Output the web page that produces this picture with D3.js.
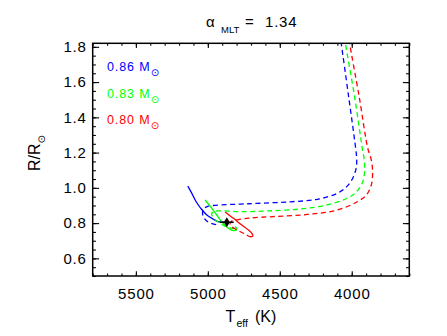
<!DOCTYPE html>
<html>
<head>
<meta charset="utf-8">
<script src="https://cdn.jsdelivr.net/npm/d3@7"></script>
<style>
  html, body { margin: 0; padding: 0; background: #ffffff; }
  svg { display: block; }
  text { font-family: "Liberation Sans", Arial, Helvetica, sans-serif; }
</style>
</head>
<body>
<div id="chart"></div>
<script>
// ---------------- data ----------------
const massLabels = ["0.86", "0.83", "0.80"];
const titleValue = "1.34";

const xMajorTicks = [5500, 5000, 4500, 4000];
const yMajorTicks = [0.6, 0.8, 1.0, 1.2, 1.4, 1.6, 1.8];

// 0.86 Msun track
const blueSolidT = [5139, 5111, 5081, 5049, 5007, 4961, 4926, 4880];
const blueSolidR = [1.010, 0.969, 0.921, 0.884, 0.846, 0.822, 0.808, 0.805];
const blueDashT = [4942, 4998, 5033, 5033, 5005, 4949, 4775, 4657, 4428, 4240, 4101, 4031, 3989, 3968, 3966, 3974, 4022, 4073, 4081];
const blueDashR = [0.792, 0.806, 0.840, 0.874, 0.894, 0.901, 0.908, 0.912, 0.921, 0.935, 0.969, 1.010, 1.062, 1.118, 1.169, 1.232, 1.520, 1.820, 1.867];

// 0.83 Msun track
const greenSolidT = [5019, 4972, 4938, 4903, 4857, 4822, 4798, 4810];
const greenSolidR = [0.931, 0.884, 0.846, 0.808, 0.771, 0.757, 0.765, 0.781];
const greenDashT = [4817, 4887, 4949, 4974, 4956, 4901, 4775, 4590, 4358, 4172, 4033, 3969, 3927, 3911, 3913, 3927, 3981, 4044, 4052];
const greenDashR = [0.767, 0.786, 0.820, 0.852, 0.866, 0.869, 0.865, 0.869, 0.880, 0.903, 0.941, 0.976, 1.027, 1.090, 1.158, 1.226, 1.521, 1.820, 1.867];

// 0.80 Msun track
const redSolidT = [4880, 4822, 4764, 4718, 4694, 4687, 4706, 4730];
const redSolidR = [0.863, 0.827, 0.789, 0.761, 0.742, 0.727, 0.723, 0.733];
const redDashT = [4748, 4803, 4845, 4838, 4789, 4706, 4546, 4309, 4101, 3962, 3899, 3864, 3855, 3864, 3889, 3949, 4015, 4024];
const redDashR = [0.741, 0.764, 0.789, 0.809, 0.820, 0.829, 0.837, 0.849, 0.874, 0.921, 0.959, 1.016, 1.090, 1.158, 1.226, 1.521, 1.820, 1.867];

// observed star
const obsT = [4868];
const obsR = [0.805];
const obsTErr = [48];

// ---------------- layout ----------------
const W = 447, H = 336;
const colors = ["#0000ff", "#00ff00", "#ff0000"];
const plot = { left: 92.7, right: 409.3, top: 43.3, bottom: 276 };

const svg = d3.select("#chart").append("svg")
  .attr("width", W).attr("height", H);

const x = d3.scaleLinear().domain([5800, 3600]).range([plot.left, plot.right]);
const y = d3.scaleLinear().domain([0.5, 1.82]).range([plot.bottom, plot.top]);

const xMinor = d3.range(3600, 5801, 100);
const yMinor = d3.range(0.5, 1.821, 0.05);

const tickFont = 15;
function styleAxis(g) {
  g.select(".domain").remove();
  g.selectAll("line").attr("stroke", "#000").attr("stroke-width", 1.1);
  g.selectAll("text").attr("font-size", tickFont).attr("fill", "#000")
    .attr("font-family", '"Liberation Sans", Arial, sans-serif')
    .style("letter-spacing", "0.8px");
}

// bottom
svg.append("g").attr("transform", `translate(0,${plot.bottom})`)
  .call(d3.axisBottom(x).tickValues(xMinor).tickSize(-2.4).tickFormat(""))
  .call(styleAxis);
svg.append("g").attr("transform", `translate(0,${plot.bottom})`)
  .call(d3.axisBottom(x).tickValues(xMajorTicks).tickSize(-4.8).tickPadding(12).tickFormat(d3.format("d")))
  .call(styleAxis);
// top
svg.append("g").attr("transform", `translate(0,${plot.top})`)
  .call(d3.axisTop(x).tickValues(xMinor).tickSize(-2.4).tickFormat(""))
  .call(styleAxis);
svg.append("g").attr("transform", `translate(0,${plot.top})`)
  .call(d3.axisTop(x).tickValues(xMajorTicks).tickSize(-4.8).tickFormat(""))
  .call(styleAxis);
// left
svg.append("g").attr("transform", `translate(${plot.left},0)`)
  .call(d3.axisLeft(y).tickValues(yMinor).tickSize(-3.2).tickFormat(""))
  .call(styleAxis);
svg.append("g").attr("transform", `translate(${plot.left},0)`)
  .call(d3.axisLeft(y).tickValues(yMajorTicks).tickSize(-6.4).tickPadding(6).tickFormat(d3.format(".1f")))
  .call(styleAxis);
// right
svg.append("g").attr("transform", `translate(${plot.right},0)`)
  .call(d3.axisRight(y).tickValues(yMinor).tickSize(-3.2).tickFormat(""))
  .call(styleAxis);
svg.append("g").attr("transform", `translate(${plot.right},0)`)
  .call(d3.axisRight(y).tickValues(yMajorTicks).tickSize(-6.4).tickFormat(""))
  .call(styleAxis);

// clip
svg.append("clipPath").attr("id", "clip").append("rect")
  .attr("x", plot.left).attr("y", plot.top)
  .attr("width", plot.right - plot.left).attr("height", plot.bottom - plot.top);

const line = d3.line().x(d => x(d[0])).y(d => y(d[1])).curve(d3.curveCatmullRom.alpha(0.5));
const tracks = [
  { solid: d3.zip(blueSolidT, blueSolidR), dash: d3.zip(blueDashT, blueDashR) },
  { solid: d3.zip(greenSolidT, greenSolidR), dash: d3.zip(greenDashT, greenDashR) },
  { solid: d3.zip(redSolidT, redSolidR), dash: d3.zip(redDashT, redDashR) }
];

const gTracks = svg.append("g").attr("clip-path", "url(#clip)");
tracks.forEach((t, i) => {
  gTracks.append("path").attr("d", line(t.dash))
    .attr("fill", "none").attr("stroke", colors[i]).attr("stroke-width", 1.3)
    .attr("stroke-dasharray", "5,3.5");
  gTracks.append("path").attr("d", line(t.solid))
    .attr("fill", "none").attr("stroke", colors[i]).attr("stroke-width", 1.3);
});

// observed star
const obs = d3.zip(obsT, obsR, obsTErr);
gTracks.selectAll(".err").data(obs).join("line")
  .attr("x1", d => x(d[0] + d[2])).attr("x2", d => x(d[0] - d[2]))
  .attr("y1", d => y(d[1])).attr("y2", d => y(d[1]))
  .attr("stroke", "#000").attr("stroke-width", 1.5);
gTracks.selectAll(".obs").data(obs).join("path")
  .attr("d", d3.symbol().type(d3.symbolDiamond).size(30))
  .attr("transform", d => `translate(${x(d[0])},${y(d[1])})`)
  .attr("fill", "#000");

// frame
svg.append("rect").attr("x", plot.left).attr("y", plot.top)
  .attr("width", plot.right - plot.left).attr("height", plot.bottom - plot.top)
  .attr("fill", "none").attr("stroke", "#000").attr("stroke-width", 1.5);

// legend
const legend = svg.append("g");
massLabels.forEach((m, i) => {
  const t = legend.append("text")
    .attr("x", 107).attr("y", 71 + i * 26.7)
    .attr("font-size", 12.5).attr("fill", colors[i])
    .style("letter-spacing", "0.9px");
  t.append("tspan").text(m + " M");
  t.append("tspan").attr("font-family", '"DejaVu Sans", sans-serif')
    .attr("font-size", 10).attr("dy", 5).text("⊙");
});

// title
const title = svg.append("text").attr("y", 27).attr("fill", "#000").attr("font-size", 15);
title.append("tspan").attr("x", 206).text("α");
title.append("tspan").attr("x", 221).attr("dy", 6).attr("font-size", 9.5).text("MLT");
title.append("tspan").attr("x", 245).attr("dy", -6).text("=");
title.append("tspan").attr("x", 265).style("letter-spacing", "0.8px").text(titleValue);

// x label
const xl = svg.append("text").attr("y", 321.5).attr("fill", "#000").attr("font-size", 16);
xl.append("tspan").attr("x", 225.5).text("T");
xl.append("tspan").attr("x", 236.5).attr("dy", 5).attr("font-size", 10.5).text("eff");
xl.append("tspan").attr("x", 255).attr("dy", -5).text("(K)");

// y label
const yl = svg.append("text")
  .attr("transform", "translate(39.5,171) rotate(-90)")
  .attr("fill", "#000").attr("font-size", 16);
yl.append("tspan").attr("x", 0).text("R/R");
yl.append("tspan").attr("font-family", '"DejaVu Sans", sans-serif')
  .attr("font-size", 10).attr("dy", 5).text("⊙");
</script>
</body>
</html>
